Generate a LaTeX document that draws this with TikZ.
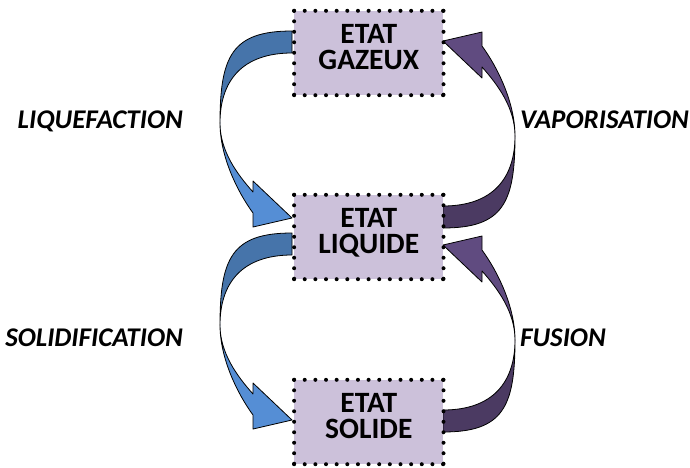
\documentclass[tikz,border=0pt]{standalone}
\usepackage{fontspec}
\setmainfont{Carlito}
\definecolor{boxfill}{HTML}{CCC1DA}
\definecolor{bluedark}{HTML}{4674AA}
\definecolor{bluelight}{HTML}{558ED5}
\definecolor{purplelight}{HTML}{604B80}
\definecolor{purpledark}{HTML}{4B3A62}
\tikzset{
  statebox/.style={fill=boxfill, minimum width=149pt, minimum height=84pt, inner sep=0pt},
  dotline/.style={line width=4pt, line cap=round, dash pattern=on 0pt off #1},
  boxtext/.style={font=\fontsize{29.5}{30}\selectfont\bfseries, inner sep=0pt, anchor=base},
  lbl/.style={font=\fontsize{27}{28}\selectfont\bfseries\itshape, inner sep=0pt},
  arrowpart/.style={draw=black, line width=0.8pt, line join=round},
}
\newcommand{\bendarrow}[3]{%
  \begin{scope}[#1]
    \draw[arrowpart, fill=#2] (0,0) .. controls (-60,0) and (-72,25) .. (-72,92)
      .. controls (-72,50) and (-50,22) .. (0,22) -- cycle;
    \draw[arrowpart, fill=#3] (-72,92) .. controls (-72,125) and (-55,160) .. (-39,182)
      -- (-39,196) -- (0,187) -- (-39,150) -- (-39,161)
      .. controls (-55,143) and (-72,120) .. (-72,92) -- cycle;
  \end{scope}}
\newcommand{\statenode}[3]{%
  \node[statebox] (#1) at (368.8,#2) {};
  \draw[dotline=10.64pt] (#1.north west) -- (#1.north east);
  \draw[dotline=10.64pt] (#1.south west) -- (#1.south east);
  \draw[dotline=10.49pt] (#1.north west) -- (#1.south west);
  \draw[dotline=10.49pt] (#1.north east) -- (#1.south east);
  \node[boxtext] (#1a) at ([yshift=10pt]#1.center) {ETAT};
  \node[boxtext] (#1b) at ([yshift=-16pt]#1.center) {#3};}
\begin{document}
\begin{tikzpicture}[x=1pt, y=-1pt]
\useasboundingbox (0,0) rectangle (690,467);
% curved arrows
\bendarrow{shift={(292,31)}}{bluedark}{bluelight}
\bendarrow{shift={(292,233)}}{bluedark}{bluelight}
\bendarrow{shift={(443,228)}, xscale=-1, yscale=-1}{purpledark}{purplelight}
\bendarrow{shift={(443,432)}, xscale=-1, yscale=-1}{purpledark}{purplelight}
% states
\statenode{gaz}{53}{GAZEUX}
\statenode{liq}{237}{LIQUIDE}
\statenode{sol}{422}{SOLIDE}
% labels
\node[lbl, anchor=base east] (liquefaction) at (183,128) {LIQUEFACTION};
\node[lbl, anchor=base east] (solidification) at (183,346) {SOLIDIFICATION};
\node[lbl, anchor=base west] (vaporisation) at (520,128) {VAPORISATION};
\node[lbl, anchor=base west] (fusion) at (520,346) {FUSION};
\end{tikzpicture}
\end{document}
